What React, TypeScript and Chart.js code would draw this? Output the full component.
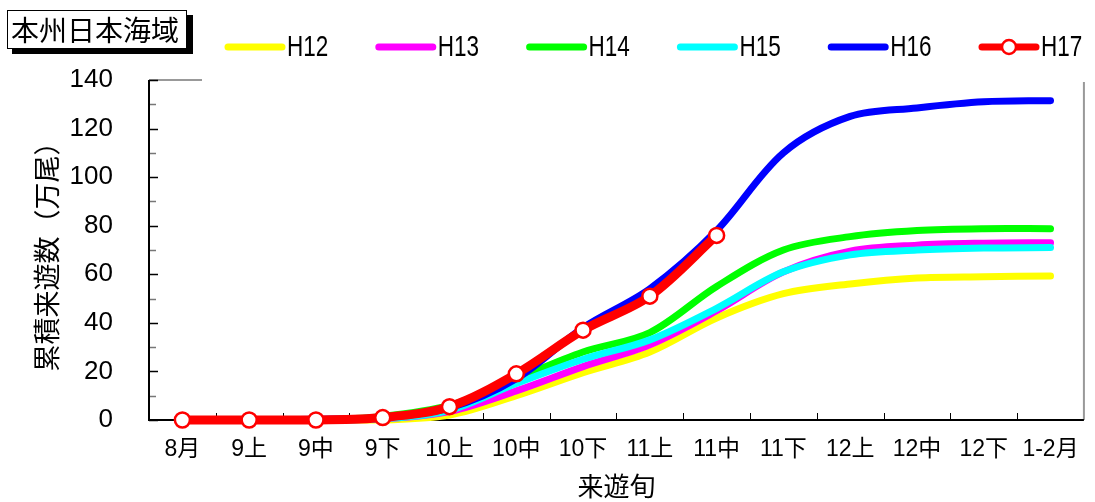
import React, { useEffect, useRef } from "react";
import { Chart, registerables } from "chart.js";

Chart.register(...registerables);

// ---- data ----
const categories = ["8月", "9上", "9中", "9下", "10上", "10中", "10下", "11上", "11中", "11下", "12上", "12中", "12下", "1-2月"];
const seriesNames = ["H12", "H13", "H14", "H15", "H16", "H17"];
const h12 = [0, 0, 0, 0, 2, 10, 19.5, 28, 42, 52, 56, 58.5, 59, 59.3];
const h13 = [0, 0, 0, 0.5, 3.5, 12, 22, 31, 45, 61, 69.5, 72, 72.8, 73];
const h14 = [0, 0, 0, 1.5, 6, 17, 28, 36, 55, 70, 75.5, 78, 78.8, 78.8];
const h15 = [0, 0, 0, 0.5, 4, 15, 25, 33, 46, 61, 68, 70, 70.8, 71];
const h16 = [0, 0, 0.3, 1, 5, 17, 38, 54, 78, 110, 125, 128.5, 131, 131.5];
const h17 = [0, 0, 0, 1, 5.5, 19, 37, 51, 76];
const seriesColors = ["#FFFF00", "#FF00FF", "#00FF00", "#00FFFF", "#0000FF", "#FF0000"];
const yMin = 0;
const yMax = 140;
const yStep = 20;
const chartTitle = "本州日本海域";
const yTitle = "累積来遊数（万尾）";
const xTitle = "来遊旬";

const CJK = "'Noto Sans CJK JP', 'Noto Sans CJK SC', sans-serif";
const LATIN = "'Liberation Sans', Arial, 'Noto Sans CJK JP', sans-serif";

const decor = {
  id: "decor",
  beforeDraw(chart: any) {
    const { ctx, width, height } = chart;
    ctx.save();
    ctx.fillStyle = "#ffffff";
    ctx.fillRect(0, 0, width, height);
    ctx.restore();
  },
  beforeDatasetsDraw(chart: any) {
    const { ctx, chartArea } = chart;
    const { left, right, top, bottom } = chartArea;
    const xs = chart.scales.x;
    const ys = chart.scales.y;
    ctx.save();
    ctx.strokeStyle = "#999999";
    ctx.lineWidth = 2;
    ctx.beginPath();
    ctx.moveTo(left, top);
    ctx.lineTo(left + 53, top);
    ctx.moveTo(right, top + 2);
    ctx.lineTo(right, bottom);
    ctx.stroke();
    ctx.strokeStyle = "#777777";
    ctx.lineWidth = 1.5;
    for (let v = yMin + yStep / 2; v < yMax; v += yStep) {
      const y = Math.round(ys.getPixelForValue(v)) + 0.5;
      ctx.beginPath();
      ctx.moveTo(left, y);
      ctx.lineTo(left + 7, y);
      ctx.stroke();
    }
    ctx.strokeStyle = "#000000";
    for (let v = yMin; v <= yMax; v += yStep) {
      const y = Math.round(ys.getPixelForValue(v)) + 0.5;
      ctx.beginPath();
      ctx.moveTo(left, y);
      ctx.lineTo(left + 9, y);
      ctx.stroke();
    }
    ctx.lineWidth = 1;
    for (let i = 0; i < categories.length - 1; i++) {
      const x = Math.round((xs.getPixelForTick(i) + xs.getPixelForTick(i + 1)) / 2) + 0.5;
      ctx.beginPath();
      ctx.moveTo(x, bottom);
      ctx.lineTo(x, bottom - 7);
      ctx.stroke();
    }
    ctx.strokeStyle = "#000000";
    ctx.lineWidth = 2;
    ctx.beginPath();
    ctx.moveTo(left, top);
    ctx.lineTo(left, bottom);
    ctx.lineTo(right, bottom);
    ctx.stroke();
    ctx.restore();
  },
  afterDraw(chart: any) {
    const { ctx } = chart;
    ctx.save();
    ctx.fillStyle = "#000000";
    ctx.fillRect(12, 15, 181, 39);
    ctx.fillStyle = "#ffffff";
    ctx.fillRect(7, 10, 180, 39);
    ctx.strokeStyle = "#000000";
    ctx.lineWidth = 1;
    ctx.strokeRect(7.5, 10.5, 179, 38);
    ctx.fillStyle = "#000000";
    ctx.font = `28px ${CJK}`;
    ctx.textBaseline = "middle";
    ctx.textAlign = "left";
    ctx.fillText(chartTitle, 11, 30);

    const ds = chart.data.datasets;
    const startX = 228;
    const gap = 150.8;
    const ly = 47;
    for (let i = 0; i < seriesNames.length; i++) {
      const x0 = startX + i * gap;
      const d = ds[i];
      ctx.strokeStyle = d.borderColor;
      ctx.lineWidth = 7;
      ctx.lineCap = "round";
      ctx.beginPath();
      ctx.moveTo(x0, ly);
      ctx.lineTo(x0 + 54, ly);
      ctx.stroke();
      if (d.pointRadius > 0) {
        ctx.beginPath();
        ctx.arc(x0 + 27, ly, 7, 0, Math.PI * 2);
        ctx.fillStyle = "#ffffff";
        ctx.fill();
        ctx.lineWidth = 2.5;
        ctx.strokeStyle = d.pointBorderColor;
        ctx.stroke();
      }
      // condensed legend text
      ctx.save();
      ctx.translate(x0 + 59, ly + 1);
      ctx.scale(0.75, 1);
      ctx.fillStyle = "#000000";
      ctx.font = `30px ${LATIN}`;
      ctx.textAlign = "left";
      ctx.textBaseline = "middle";
      ctx.fillText(seriesNames[i], 0, 0);
      ctx.restore();
    }
    ctx.restore();
  },
};

export default function App() {
  const ref = useRef<HTMLCanvasElement | null>(null);
  useEffect(() => {
    if (!ref.current) return;
    const seriesData = [h12, h13, h14, h15, h16, h17];
    const datasets = seriesNames.map((name, i) => {
      const isLast = i === seriesNames.length - 1;
      return {
        label: name,
        data: seriesData[i],
        borderColor: seriesColors[i],
        backgroundColor: seriesColors[i],
        borderWidth: isLast ? 9 : 7,
        borderCapStyle: "round",
        borderJoinStyle: "round",
        tension: 0.33,
        pointRadius: isLast ? 7.5 : 0,
        pointHoverRadius: isLast ? 7.5 : 0,
        pointBackgroundColor: "#ffffff",
        pointBorderColor: seriesColors[i],
        pointBorderWidth: 2.5,
        fill: false,
        clip: false,
        order: seriesNames.length - 1 - i,
      };
    });
    const chart = new Chart(ref.current, {
      type: "line",
      data: { labels: categories, datasets: datasets as any },
      options: {
        animation: false,
        responsive: true,
        maintainAspectRatio: false,
        layout: { padding: { left: 0, right: 7, top: 80, bottom: 0 } },
        plugins: {
          legend: { display: false },
          title: { display: false },
          tooltip: { enabled: false },
        },
        scales: {
          x: {
            offset: true,
            grid: { display: false, drawTicks: false },
            border: { display: false },
            ticks: {
              color: "#000000",
              font: { family: LATIN, size: 23 },
              padding: 16,
              maxRotation: 0,
              autoSkip: false,
            },
            title: {
              display: true,
              text: xTitle,
              color: "#000000",
              font: { family: CJK, size: 26 },
              padding: { top: 0, bottom: 0 },
            },
            afterFit: (s: any) => {
              s.height = 82;
            },
          },
          y: {
            min: yMin,
            max: yMax,
            grid: { display: false, drawTicks: false },
            border: { display: false },
            ticks: {
              stepSize: yStep,
              color: "#000000",
              font: { family: LATIN, size: 26 },
              padding: 36,
            },
            title: {
              display: true,
              text: yTitle,
              color: "#000000",
              font: { family: CJK, size: 27 },
              padding: { top: 31, bottom: 0 },
            },
            afterFit: (s: any) => {
              s.width = 149;
            },
          },
        },
      },
      plugins: [decor],
    });
    return () => chart.destroy();
  }, []);
  return (
    <div style={{ position: "fixed", left: 0, top: 0, width: 1095, height: 502, background: "#fff" }}>
      <canvas ref={ref} />
    </div>
  );
}
